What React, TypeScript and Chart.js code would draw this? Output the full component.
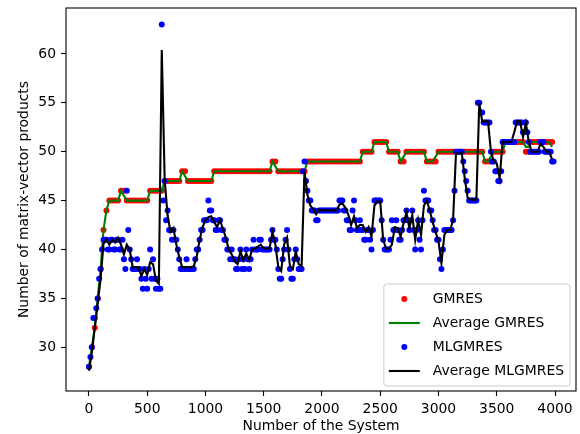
import React, { useEffect, useRef } from "react";
import { Chart, registerables } from "chart.js";

Chart.register(...registerables);

const systemNumbers = [
  0, 25, 50, 75, 100, 125, 150, 175, 200, 225, 250, 275, 300, 325, 350, 375,
  400, 425, 450, 475, 500, 525, 550, 575, 600, 625, 650, 675, 700, 725, 750, 775,
  800, 825, 850, 875, 900, 925, 950, 975, 1000, 1025, 1050, 1075, 1100, 1125, 1150, 1175,
  1200, 1225, 1250, 1275, 1300, 1325, 1350, 1375, 1400, 1425, 1450, 1475, 1500, 1525, 1550, 1575,
  1600, 1625, 1650, 1675, 1700, 1725, 1750, 1775, 1800, 1825, 1850, 1875, 1900, 1925, 1950, 1975,
  2000, 2025, 2050, 2075, 2100, 2125, 2150, 2175, 2200, 2225, 2250, 2275, 2300, 2325, 2350, 2375,
  2400, 2425, 2450, 2475, 2500, 2525, 2550, 2575, 2600, 2625, 2650, 2675, 2700, 2725, 2750, 2775,
  2800, 2825, 2850, 2875, 2900, 2925, 2950, 2975, 3000, 3025, 3050, 3075, 3100, 3125, 3150, 3175,
  3200, 3225, 3250, 3275, 3300, 3325, 3350, 3375, 3400, 3425, 3450, 3475, 3500, 3525, 3550, 3575,
  3600, 3625, 3650, 3675, 3700, 3725, 3750, 3775, 3800, 3825, 3850, 3875, 3900, 3925, 3950, 3975,
];

const midSystemNumbers = [
  12.5, 37.5, 62.5, 87.5, 112.5, 137.5, 162.5, 187.5, 212.5, 237.5, 262.5, 287.5, 312.5, 337.5, 362.5, 387.5,
  412.5, 437.5, 462.5, 487.5, 512.5, 537.5, 562.5, 587.5, 612.5, 637.5, 662.5, 687.5, 712.5, 737.5, 762.5, 787.5,
  812.5, 837.5, 862.5, 887.5, 912.5, 937.5, 962.5, 987.5, 1012.5, 1037.5, 1062.5, 1087.5, 1112.5, 1137.5, 1162.5, 1187.5,
  1212.5, 1237.5, 1262.5, 1287.5, 1312.5, 1337.5, 1362.5, 1387.5, 1412.5, 1437.5, 1462.5, 1487.5, 1512.5, 1537.5, 1562.5, 1587.5,
  1612.5, 1637.5, 1662.5, 1687.5, 1712.5, 1737.5, 1762.5, 1787.5, 1812.5, 1837.5, 1862.5, 1887.5, 1912.5, 1937.5, 1962.5, 1987.5,
  2012.5, 2037.5, 2062.5, 2087.5, 2112.5, 2137.5, 2162.5, 2187.5, 2212.5, 2237.5, 2262.5, 2287.5, 2312.5, 2337.5, 2362.5, 2387.5,
  2412.5, 2437.5, 2462.5, 2487.5, 2512.5, 2537.5, 2562.5, 2587.5, 2612.5, 2637.5, 2662.5, 2687.5, 2712.5, 2737.5, 2762.5, 2787.5,
  2812.5, 2837.5, 2862.5, 2887.5, 2912.5, 2937.5, 2962.5, 2987.5, 3012.5, 3037.5, 3062.5, 3087.5, 3112.5, 3137.5, 3162.5, 3187.5,
  3212.5, 3237.5, 3262.5, 3287.5, 3312.5, 3337.5, 3362.5, 3387.5, 3412.5, 3437.5, 3462.5, 3487.5, 3512.5, 3537.5, 3562.5, 3587.5,
  3612.5, 3637.5, 3662.5, 3687.5, 3712.5, 3737.5, 3762.5, 3787.5, 3812.5, 3837.5, 3862.5, 3887.5, 3912.5, 3937.5, 3962.5, 3987.5,
];

const gmresProducts = [
  28, 30, 32, 35, 38, 42, 44, 45, 45, 45, 45, 46, 46, 45, 45, 45,
  45, 45, 45, 45, 45, 46, 46, 46, 46, 46, 47, 47, 47, 47, 47, 47,
  48, 48, 47, 47, 47, 47, 47, 47, 47, 47, 47, 48, 48, 48, 48, 48,
  48, 48, 48, 48, 48, 48, 48, 48, 48, 48, 48, 48, 48, 48, 48, 49,
  49, 48, 48, 48, 48, 48, 48, 48, 48, 48, 48, 49, 49, 49, 49, 49,
  49, 49, 49, 49, 49, 49, 49, 49, 49, 49, 49, 49, 49, 49, 50, 50,
  50, 50, 51, 51, 51, 51, 51, 50, 50, 50, 50, 49, 49, 50, 50, 50,
  50, 50, 50, 50, 49, 49, 49, 49, 50, 50, 50, 50, 50, 50, 50, 50,
  50, 50, 50, 50, 50, 50, 50, 50, 49, 49, 49, 50, 50, 50, 50, 51,
  51, 51, 51, 51, 51, 51, 50, 50, 51, 51, 51, 51, 51, 51, 51, 51,
];

const gmresAverage = [
  28, 30, 32, 35, 38, 42, 44, 45, 45, 45, 45, 46, 45.5, 45, 45, 45,
  45, 45, 45, 45, 45, 46, 46, 46, 46, 46, 47, 47, 47, 47, 47, 47,
  48, 47.5, 47, 47, 47, 47, 47, 47, 47, 47, 47, 48, 48, 48, 48, 48,
  48, 48, 48, 48, 48, 48, 48, 48, 48, 48, 48, 48, 48, 48, 48, 49,
  48.5, 48, 48, 48, 48, 48, 48, 48, 48, 48, 48, 49, 49, 49, 49, 49,
  49, 49, 49, 49, 49, 49, 49, 49, 49, 49, 49, 49, 49, 49, 50, 50,
  50, 50, 51, 51, 51, 51, 51, 50, 50, 50, 50, 49, 49.5, 50, 50, 50,
  50, 50, 50, 50, 49, 49, 49, 49.5, 50, 50, 50, 50, 50, 50, 50, 50,
  50, 50, 50, 50, 50, 50, 50, 50, 49, 49, 49.5, 50, 50, 50, 50, 51,
  51, 51, 51, 51, 51, 51, 50.5, 50.5, 51, 51, 51, 51, 51, 51, 51, 50.5,
];

const mlgmresProducts = [
  28, 30, 33, 35, 38, 41, 41, 40, 41, 40, 41, 40, 39, 46, 40, 38,
  38, 38, 37, 38, 36, 40, 39, 36, 36, 63, 47, 44, 42, 42, 41, 39,
  38, 38, 38, 38, 38, 40, 41, 42, 43, 45, 44, 43, 42, 43, 42, 41,
  40, 40, 39, 38, 40, 39, 40, 38, 40, 40, 40, 41, 40, 40, 40, 42,
  41, 38, 37, 40, 42, 38, 37, 40, 38, 38, 49, 46, 45, 44, 43, 44,
  44, 44, 44, 44, 44, 44, 45, 45, 44, 43, 42, 45, 42, 43, 42, 41,
  42, 40, 45, 45, 45, 41, 40, 40, 43, 42, 42, 41, 43, 44, 42, 44,
  40, 43, 40, 46, 45, 44, 43, 42, 41, 38, 42, 42, 42, 43, 50, 50,
  50, 48, 46, 45, 45, 45, 55, 54, 53, 53, 50, 49, 48, 47, 51, 51,
  51, 51, 51, 53, 53, 52, 53, 51, 50, 50, 50, 51, 51, 50, 50, 49,
];

const mlgmresMidProducts = [
  29, 33, 34, 37, 40, 41, 40, 41, 40, 41, 40, 41, 38, 42, 39, 38,
  39, 38, 36, 37, 38, 37, 37, 37, 36, 45, 43, 42, 41, 41, 40, 38,
  38, 39, 38, 38, 39, 40, 42, 43, 43, 44, 43, 42, 43, 42, 41, 40,
  39, 39, 38, 39, 38, 38, 39, 39, 41, 40, 41, 40, 40, 40, 41, 41,
  40, 37, 39, 41, 40, 37, 39, 39, 38, 48, 47, 45, 44, 44, 43, 44,
  44, 44, 44, 44, 44, 44, 45, 44, 43, 42, 44, 43, 42, 42, 41, 42,
  41, 42, 45, 45, 43, 40, 40, 41, 42, 43, 41, 42, 43, 43, 43, 42,
  42, 41, 43, 45, 45, 44, 42, 41, 39, 40, 42, 42, 42, 46, 50, 50,
  49, 47, 45, 45, 45, 55, 54, 53, 53, 53, 49, 48, 47, 48, 51, 51,
  51, 51, 53, 53, 53, 53, 52, 50, 50, 50, 50, 51, 50, 50, 50, 49,
];

const mlgmresAverage = [
  27.6, 29.5, 32, 34.5, 37, 40.6, 41, 40.5, 41, 40.7, 41.2, 40.5, 39.5, 40.5, 40, 38.2,
  38.2, 38.2, 37.3, 38, 37.4, 38.7, 38.5, 36.8, 36.5, 60.4, 47.1, 43.5, 41.8, 42.2, 40.5, 39.2,
  38.2, 38.2, 38.2, 38.2, 38.3, 39.3, 41, 42.3, 43, 43.3, 43.4, 42.8, 42.3, 43, 42.1, 41.2,
  40, 39.5, 38.8, 38.5, 39.8, 38.9, 39.6, 38.9, 40, 40.1, 40.3, 40.5, 40.1, 40.1, 40.1, 41.8,
  40.5, 38.2, 37.8, 40.5, 41.2, 38.3, 38, 39.8, 38.5, 38.3, 48, 45.6, 44.5, 44.1, 43.6, 44.1,
  44, 44, 44, 44, 44, 44, 44.6, 44.7, 44.3, 43.6, 42.5, 43.4, 42.2, 42.5, 42.5, 41.8,
  42.3, 41.3, 44.5, 44.9, 44.9, 41, 40.1, 40.1, 40.5, 42.3, 42.2, 41.3, 42.7, 43.8, 42.2, 43.5,
  41, 43, 41.5, 44.5, 45, 44, 42.8, 41.8, 40.8, 38.6, 41.5, 42, 42, 43, 49.85, 49.85,
  49.85, 47.3, 45.3, 45.1, 45.1, 45.1, 55, 53.1, 53.1, 53.1, 50, 49, 48.8, 47.3, 51, 51,
  51, 51, 52, 53.1, 53.1, 51.5, 52.9, 51, 50, 50, 50, 50.8, 50.5, 50, 50, 49.2,
];

const xTickValues = [0, 500, 1000, 1500, 2000, 2500, 3000, 3500, 4000];
const yTickValues = [30, 35, 40, 45, 50, 55, 60];
const seriesLabels = ["GMRES", "Average GMRES", "MLGMRES", "Average MLGMRES"];

const FONT_FAMILY = "'DejaVu Sans', 'Liberation Sans', sans-serif";
const FONT_SIZE = 13.9;

export default function App() {
  const canvasRef = useRef<HTMLCanvasElement | null>(null);

  useEffect(() => {
    const canvas = canvasRef.current;
    if (!canvas) return;

    const toPoints = (xs: number[], values: number[]) =>
      xs.map((x, i) => ({ x, y: values[i] }));

    const framePlugin = {
      id: "axesFrame",
      afterDatasetsDraw(chart: any) {
        const { ctx, chartArea } = chart;
        const { left, top, right, bottom } = chartArea;
        ctx.save();
        ctx.strokeStyle = "#000";
        ctx.lineWidth = 1.1;
        ctx.strokeRect(left, top, right - left, bottom - top);
        ctx.restore();
      },
    };

    const legendPlugin = {
      id: "mplLegend",
      afterDraw(chart: any) {
        const { ctx, chartArea } = chart;
        ctx.save();
        ctx.font = `${FONT_SIZE}px ${FONT_FAMILY}`;
        const labels = chart.data.datasets.map((d: any) => d.label as string);
        const textW = Math.max(...labels.map((l: string) => ctx.measureText(l).width));
        const right = chartArea.right - 6;
        const bottom = chartArea.bottom - 5;
        const height = 102;
        const top = bottom - height;
        const left = right - textW - 55;
        const r = 3;
        ctx.beginPath();
        ctx.moveTo(left + r, top);
        ctx.lineTo(right - r, top);
        ctx.quadraticCurveTo(right, top, right, top + r);
        ctx.lineTo(right, bottom - r);
        ctx.quadraticCurveTo(right, bottom, right - r, bottom);
        ctx.lineTo(left + r, bottom);
        ctx.quadraticCurveTo(left, bottom, left, bottom - r);
        ctx.lineTo(left, top + r);
        ctx.quadraticCurveTo(left, top, left + r, top);
        ctx.closePath();
        ctx.fillStyle = "rgba(255,255,255,0.8)";
        ctx.fill();
        ctx.strokeStyle = "#cccccc";
        ctx.lineWidth = 1;
        ctx.stroke();

        const rowGap = 24;
        chart.data.datasets.forEach((ds: any, i: number) => {
          const cy = top + 15 + i * rowGap;
          const hx0 = left + 5;
          const hx1 = left + 36;
          if (ds.showLine) {
            ctx.beginPath();
            ctx.moveTo(hx0, cy);
            ctx.lineTo(hx1, cy);
            ctx.strokeStyle = ds.borderColor;
            ctx.lineWidth = 2.1;
            ctx.stroke();
          } else {
            ctx.beginPath();
            ctx.arc((hx0 + hx1) / 2, cy, 3, 0, Math.PI * 2);
            ctx.fillStyle = ds.backgroundColor;
            ctx.fill();
          }
          ctx.fillStyle = "#000";
          ctx.textBaseline = "middle";
          ctx.textAlign = "left";
          ctx.fillText(ds.label, left + 49, cy);
        });
        ctx.restore();
      },
    };

    const tickFont = { family: FONT_FAMILY, size: FONT_SIZE };
    const plainLabel = (value: any) => String(value);

    const mlgmresPoints = [
      ...toPoints(systemNumbers, mlgmresProducts),
      ...toPoints(midSystemNumbers, mlgmresMidProducts),
    ];

    const chart = new Chart(canvas, {
      type: "scatter",
      data: {
        datasets: [
          {
            label: seriesLabels[0],
            data: toPoints(systemNumbers, gmresProducts),
            backgroundColor: "#ff0000",
            borderColor: "#ff0000",
            pointRadius: 3,
            pointBorderWidth: 0,
            showLine: false,
            order: 4,
          },
          {
            label: seriesLabels[1],
            data: toPoints(systemNumbers, gmresAverage),
            borderColor: "#008000",
            backgroundColor: "#008000",
            borderWidth: 2.1,
            pointRadius: 0,
            showLine: true,
            order: 3,
          },
          {
            label: seriesLabels[2],
            data: mlgmresPoints,
            backgroundColor: "#0000ff",
            borderColor: "#0000ff",
            pointRadius: 3,
            pointBorderWidth: 0,
            showLine: false,
            order: 2,
          },
          {
            label: seriesLabels[3],
            data: toPoints(systemNumbers, mlgmresAverage),
            borderColor: "#000000",
            backgroundColor: "#000000",
            borderWidth: 2.1,
            pointRadius: 0,
            showLine: true,
            order: 1,
          },
        ],
      },
      options: {
        responsive: false,
        animation: false,
        devicePixelRatio: 1,
        layout: { padding: { left: 0, top: 8, right: 4, bottom: 0 } },
        plugins: {
          legend: { display: false },
          tooltip: { enabled: false },
        },
        scales: {
          x: {
            type: "linear",
            min: -197,
            max: 4180,
            afterFit: (scale: any) => {
              scale.height = 43;
              scale.paddingLeft = 0;
              scale.paddingRight = 0;
            },
            afterBuildTicks: (scale: any) => {
              scale.ticks = xTickValues.map((v) => ({ value: v }));
            },
            grid: {
              display: true,
              drawOnChartArea: false,
              drawTicks: true,
              tickLength: 5,
              tickWidth: 1.1,
              tickColor: "#000",
            },
            border: { display: false },
            ticks: {
              color: "#000",
              font: tickFont,
              padding: 5,
              maxRotation: 0,
              autoSkip: false,
              callback: plainLabel,
            },
            title: {
              display: true,
              text: "Number of the System",
              color: "#000",
              font: tickFont,
              padding: { top: 0, bottom: -1 },
            },
          },
          y: {
            type: "linear",
            min: 25.53,
            max: 64.7,
            afterFit: (scale: any) => {
              scale.width = 66;
              scale.paddingTop = 0;
              scale.paddingBottom = 0;
            },
            afterBuildTicks: (scale: any) => {
              scale.ticks = yTickValues.map((v) => ({ value: v }));
            },
            grid: {
              display: true,
              drawOnChartArea: false,
              drawTicks: true,
              tickLength: 5,
              tickWidth: 1.1,
              tickColor: "#000",
            },
            border: { display: false },
            ticks: {
              color: "#000",
              font: tickFont,
              padding: 5,
              autoSkip: false,
              callback: plainLabel,
            },
            title: {
              display: true,
              text: "Number of matrix-vector products",
              color: "#000",
              font: tickFont,
              padding: { top: 16, bottom: 0 },
            },
          },
        },
      },
      plugins: [framePlugin, legendPlugin],
    });

    return () => chart.destroy();
  }, []);

  return (
    <div
      style={{
        position: "fixed",
        left: 0,
        top: 0,
        width: 580,
        height: 434,
        background: "#ffffff",
      }}
    >
      <canvas
        ref={canvasRef}
        width={580}
        height={434}
        style={{ display: "block", width: 580, height: 434 }}
      />
    </div>
  );
}
